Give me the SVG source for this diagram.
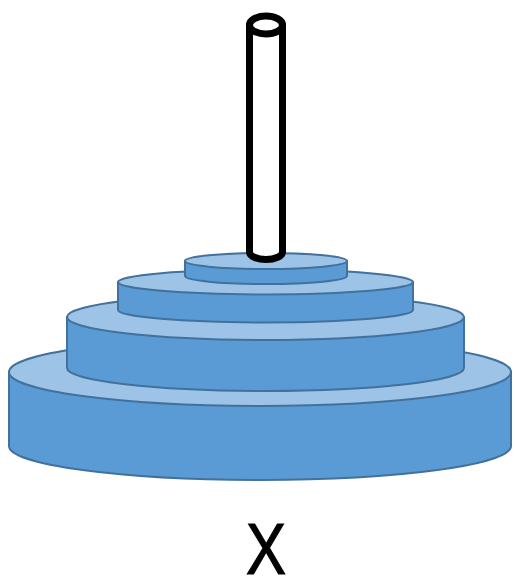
<svg xmlns="http://www.w3.org/2000/svg" width="515" height="579" viewBox="0 0 515 579">
  <style>
    .side { fill: #5B9BD5; stroke: #41719C; stroke-width: 2; stroke-linejoin: round; }
    .top { fill: #9DC3E6; stroke: #41719C; stroke-width: 2; }
    .peg { fill: #FFFFFF; stroke: #000000; stroke-width: 7; stroke-linejoin: round; }
    .label { font-family: "Liberation Sans", Arial, sans-serif; font-size: 73px; fill: #000000; stroke: #000000; stroke-width: 1.2; }
  </style>

  <!-- disc 1 (largest, bottom) -->
  <g id="disc1">
    <path class="side" d="M9,372 L9,446 A251,34 0 0 0 511,446 L511,372 Z"/>
    <ellipse class="top" cx="260" cy="372" rx="251" ry="34"/>
  </g>

  <!-- disc 2 -->
  <g id="disc2">
    <path class="side" d="M67,317 L67,368 A198.5,23 0 0 0 464,368 L464,317 Z"/>
    <ellipse class="top" cx="265.5" cy="317" rx="198.5" ry="23"/>
  </g>

  <!-- disc 3 -->
  <g id="disc3">
    <path class="side" d="M118,282 L118,310 A147.5,12.5 0 0 0 413,310 L413,282 Z"/>
    <ellipse class="top" cx="265.5" cy="282" rx="147.5" ry="12.5"/>
  </g>

  <!-- disc 4 (smallest, top) -->
  <g id="disc4">
    <path class="side" d="M185,261 L185,276 A81,8 0 0 0 347,276 L347,261 Z"/>
    <ellipse class="top" cx="266" cy="261" rx="81" ry="8"/>
  </g>

  <!-- peg -->
  <g id="peg">
    <path class="peg" d="M249.5,25 L249.5,252 A16.5,7.5 0 0 0 282.5,252 L282.5,25 Z"/>
    <ellipse class="peg" cx="266" cy="25" rx="16.5" ry="9"/>
  </g>

  <g id="label">
    <text class="label" x="246" y="574" textLength="40" lengthAdjust="spacingAndGlyphs">X</text>
  </g>
</svg>
